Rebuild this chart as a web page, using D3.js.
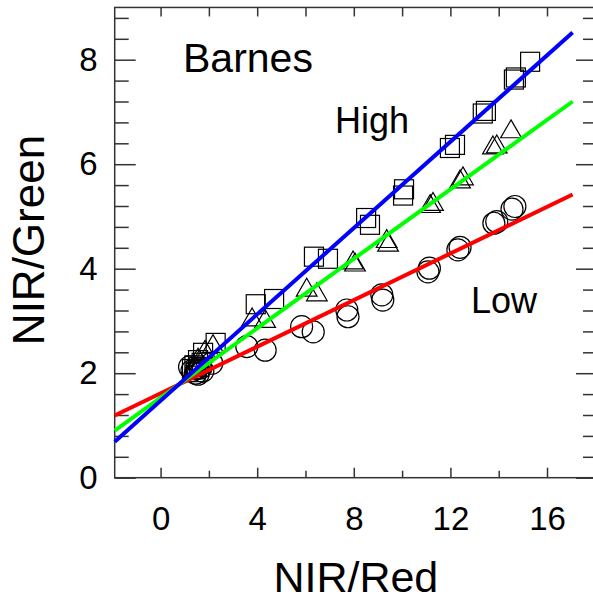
<!DOCTYPE html>
<html>
<head>
<meta charset="utf-8">
<script src="https://cdn.jsdelivr.net/npm/d3@7"></script>
<style>
  body { margin: 0; background: #fff; }
  svg { display: block; }
</style>
</head>
<body>
<div id="chartContainer"></div>
<script>
// High (squares), middle (triangles) and Low (circles) NIR/Red vs NIR/Green
const highX = [15.30, 14.71, 14.63, 13.34, 13.47, 12.19, 11.98, 10.08, 10.04, 8.51, 8.67, 6.35, 6.93, 4.70, 3.94, 2.28, 1.76, 1.55, 1.40, 1.30, 1.60, 1.45, 1.70];
const highY = [7.96, 7.66, 7.62, 6.97, 7.02, 6.37, 6.31, 5.52, 5.40, 4.97, 4.84, 4.23, 4.19, 3.42, 3.32, 2.58, 2.39, 2.25, 2.15, 2.08, 2.12, 2.02, 2.20];

const midX = [14.51, 13.92, 13.76, 12.52, 12.40, 11.28, 11.16, 9.42, 9.36, 8.05, 7.97, 6.05, 6.47, 4.33, 3.79, 2.17, 1.84, 1.55, 1.40, 1.65, 1.35];
const midY = [6.62, 6.33, 6.31, 5.72, 5.66, 5.23, 5.19, 4.45, 4.52, 4.07, 4.11, 3.59, 3.50, 2.99, 3.02, 2.51, 2.40, 2.25, 2.12, 2.18, 2.05];

const lowX = [14.67, 14.55, 13.92, 13.80, 12.40, 12.31, 11.13, 11.07, 9.16, 9.20, 7.71, 7.76, 5.84, 6.32, 3.57, 4.33, 2.12, 1.50, 1.30, 1.45, 1.65, 1.20, 1.55, 1.75];
const lowY = [5.19, 5.14, 4.90, 4.87, 4.41, 4.36, 4.01, 3.94, 3.50, 3.40, 3.21, 3.08, 2.89, 2.79, 2.51, 2.44, 2.19, 2.09, 2.05, 2.00, 2.10, 2.12, 1.98, 2.04];

// fitted lines: [x0, x1] and y at each end for high, mid, low
const fitX = [-1.9, 17.06];
const fitHighY = [0.69, 8.52];
const fitMidY = [0.90, 7.20];
const fitLowY = [1.19, 5.42];

const xMajor = [0, 4, 8, 12, 16];
const xMinor = [2, 6, 10, 14];
const yMajor = [0, 2, 4, 6, 8];
const yMinor = d3.range(0, 23).map(i => Math.round(i * 4) / 10).filter(v => v < 9 && yMajor.indexOf(v) < 0);

function createChart() {
    const width = 593;
    const height = 603;
    const left = 114.7, right = 597, top = 7.45, bottom = 477.7;

    const x = d3.scaleLinear().domain([-1.9, 18.07]).range([left, right]);
    const y = d3.scaleLinear().domain([0, 9]).range([bottom, top]);

    const svg = d3.create("svg")
        .attr("width", width)
        .attr("height", height)
        .attr("viewBox", `0 0 ${width} ${height}`)
        .style("font-family", "Liberation Sans, Arial, sans-serif");

    const axisColor = "#333";

    function styleAxis(g) {
        g.select(".domain").remove();
        g.selectAll("line").attr("stroke", axisColor).attr("stroke-width", 1.5);
        g.selectAll("text").attr("fill", "#000").style("font-size", "33px");
    }

    // frame
    svg.append("rect")
        .attr("x", left).attr("y", top)
        .attr("width", right - left).attr("height", bottom - top)
        .attr("fill", "none").attr("stroke", axisColor).attr("stroke-width", 1.5);

    // x axes (bottom with labels, top ticks only)
    svg.append("g").attr("transform", `translate(0,${bottom})`)
        .call(d3.axisBottom(x).tickValues(xMajor).tickSize(-10).tickPadding(29).tickFormat(d3.format("d")))
        .call(styleAxis);
    svg.append("g").attr("transform", `translate(0,${bottom})`)
        .call(d3.axisBottom(x).tickValues(xMinor).tickSize(-7).tickFormat(""))
        .call(styleAxis);
    svg.append("g").attr("transform", `translate(0,${top})`)
        .call(d3.axisTop(x).tickValues(xMajor.concat(xMinor)).tickSize(-9).tickFormat(""))
        .call(styleAxis);

    // y axes
    svg.append("g").attr("transform", `translate(${left},0)`)
        .call(d3.axisLeft(y).tickValues(yMajor).tickSize(-21).tickPadding(17).tickFormat(d3.format("d")))
        .call(styleAxis);
    svg.append("g").attr("transform", `translate(${left},0)`)
        .call(d3.axisLeft(y).tickValues(yMinor).tickSize(-14).tickFormat(""))
        .call(styleAxis);
    svg.append("g").attr("transform", `translate(${right},0)`)
        .call(d3.axisRight(y).tickValues(yMajor).tickSize(-21).tickFormat(""))
        .call(styleAxis);
    svg.append("g").attr("transform", `translate(${right},0)`)
        .call(d3.axisRight(y).tickValues(yMinor).tickSize(-14).tickFormat(""))
        .call(styleAxis);

    // markers
    const marks = svg.append("g").attr("fill", "none").attr("stroke", "#000").attr("stroke-width", 1.2);
    const sq = 19;
    marks.selectAll("rect.high")
        .data(highX.map((d, i) => [d, highY[i]]))
        .join("rect")
        .attr("class", "high")
        .attr("x", d => x(d[0]) - sq / 2)
        .attr("y", d => y(d[1]) - sq / 2)
        .attr("width", sq).attr("height", sq);

    const tri = d3.symbol().type(d3.symbolTriangle).size(185);
    marks.selectAll("path.mid")
        .data(midX.map((d, i) => [d, midY[i]]))
        .join("path")
        .attr("class", "mid")
        .attr("d", tri)
        .attr("transform", d => `translate(${x(d[0])},${y(d[1])})`);

    marks.selectAll("circle.low")
        .data(lowX.map((d, i) => [d, lowY[i]]))
        .join("circle")
        .attr("class", "low")
        .attr("cx", d => x(d[0]))
        .attr("cy", d => y(d[1]))
        .attr("r", 11);

    // regression lines
    const fits = [
        { ys: fitLowY, color: "#ff0000" },
        { ys: fitMidY, color: "#00ff00" },
        { ys: fitHighY, color: "#0000ff" }
    ];
    svg.append("g").selectAll("line")
        .data(fits)
        .join("line")
        .attr("x1", x(fitX[0])).attr("x2", x(fitX[1]))
        .attr("y1", d => y(d.ys[0])).attr("y2", d => y(d.ys[1]))
        .attr("stroke", d => d.color)
        .attr("stroke-width", 4);

    // annotations
    svg.append("text").attr("x", 183).attr("y", 72).style("font-size", "41px").text("Barnes");
    svg.append("text").attr("x", 335).attr("y", 133).style("font-size", "36px").text("High");
    svg.append("text").attr("x", 471).attr("y", 313).style("font-size", "36px").text("Low");

    // axis titles
    svg.append("text")
        .attr("x", (left + right) / 2).attr("y", 592)
        .attr("text-anchor", "middle")
        .style("font-size", "43px")
        .text("NIR/Red");
    svg.append("text")
        .attr("transform", `translate(44,${240}) rotate(-90)`)
        .attr("text-anchor", "middle")
        .style("font-size", "44px")
        .text("NIR/Green");

    return svg.node();
}

document.getElementById("chartContainer").appendChild(createChart());
</script>
</body>
</html>
